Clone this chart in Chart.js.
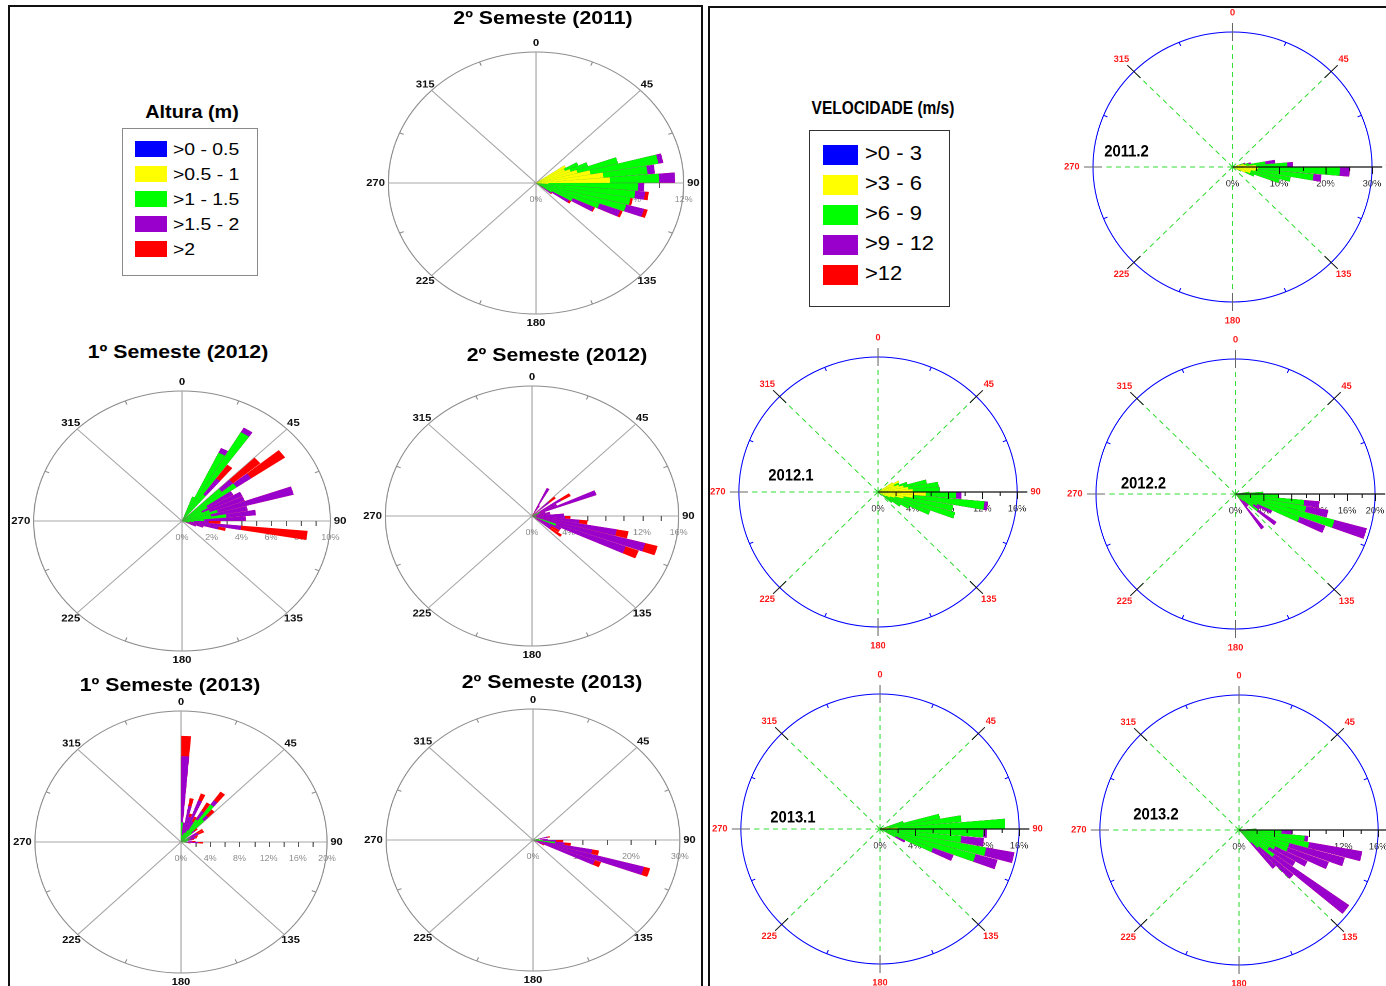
<!DOCTYPE html>
<html lang="pt">
<head>
<meta charset="utf-8">
<title>Rosas de altura de onda e velocidade do vento</title>
<script src="https://cdn.jsdelivr.net/npm/chart.js@4.4.1/dist/chart.umd.min.js"></script>
<style>
html,body{margin:0;padding:0;background:#fff;}
body{position:relative;width:1386px;height:986px;overflow:hidden;font-family:"Liberation Sans",Arial,Helvetica,sans-serif;color:#000;}
.rule{position:absolute;background:#111;}
.title{position:absolute;font-weight:bold;font-size:19px;white-space:nowrap;transform:translate(-50%,-50%) scaleX(1.12);}
canvas{position:absolute;}
.box{position:absolute;background:#fff;}
.sw{position:absolute;}
.key{position:absolute;white-space:nowrap;transform-origin:left center;}
.ltitle{position:absolute;font-weight:bold;white-space:nowrap;}
</style>
</head>
<body>
<div class="rule" style="left:8px;top:5px;width:695px;height:2px"></div>
<div class="rule" style="left:8px;top:5px;width:2px;height:981px"></div>
<div class="rule" style="left:701px;top:5px;width:2px;height:981px"></div>
<div class="rule" style="left:708px;top:6px;width:678px;height:2px"></div>
<div class="rule" style="left:708px;top:6px;width:2px;height:980px"></div>
<div id="legends"></div>
<div id="roses"></div>
<script>
// ---- class definitions -------------------------------------------------
const heightClasses = ['>0 - 0.5', '>0.5 - 1', '>1 - 1.5', '>1.5 - 2', '>2'];
const speedClasses = ['>0 - 3', '>3 - 6', '>6 - 9', '>9 - 12', '>12'];
const classColors = ['#0000ff', '#ffff00', '#00ff00', '#9900cc', '#ff0000'];
const compassLabels = ['0', '45', '90', '135', '180', '225', '270', '315'];

// ---- wave height roses: % of records per 5° sector (sector centre, degrees)
const alt2011s2Dirs   = [57.5, 62.5, 67.5, 72.5, 77.5, 82.5, 87.5, 92.5, 97.5, 102.5, 107.5, 112.5, 117.5, 122.5, 127.5];
const alt2011s2Blue   = [0,   0,   0,   0,   0,   0,   0,   0,   0,   0,   0,   0,   0,   0,   0];
const alt2011s2Yellow = [2.8, 2.6, 3.0, 3.5, 4.5, 5.5, 6.0, 1.0, 0,   0,   0,   0,   0,   0,   0];
const alt2011s2Green  = [0,   1.2, 1.5, 3.4, 5.6, 3.6, 4.0, 7.3, 8.1, 7.8, 7.6, 5.5, 3.3, 1.5, 0.5];
const alt2011s2Purple = [0,   0,   0,   0,   0.4, 0.6, 1.3, 0.5, 0.8, 0,   1.5, 1.8, 1.9, 1.6, 1.0];
const alt2011s2Red    = [0,   0,   0,   0,   0,   0,   0,   0,   0.3, 0.2, 0.3, 0.2, 0.1, 0.2, 0.1];

const alt2012s1Dirs   = [22.5, 27.5, 32.5, 37.5, 47.5, 52.5, 57.5, 62.5, 67.5, 72.5, 77.5, 82.5, 87.5, 92.5, 97.5, 102.5, 107.5, 112.5];
const alt2012s1Blue   = [0,   0,   0,   0,   0,   0,   0,   0,   0,   0,   0,   0,   0,   0,   0,   0,   0,   0];
const alt2012s1Yellow = [0,   0,   0,   0,   0,   0,   0,   0,   0,   0,   0,   0,   0,   0,   0,   0,   0,   0];
const alt2012s1Green  = [2.0, 5.8, 7.9, 2.5, 3.5, 4.5, 2.0, 1.5, 2.0, 2.5, 2.0, 3.0, 1.5, 0.8, 0.5, 0.5, 0.3, 0.2];
const alt2012s1Purple = [0,   0.4, 0.4, 1.5, 1.0, 1.2, 2.0, 3.0, 2.5, 5.3, 2.5, 2.0, 2.8, 1.0, 3.5, 2.0, 1.2, 0.8];
const alt2012s1Red    = [0,   0,   0,   1.3, 2.4, 2.8, 0,   0,   0,   0,   0,   0,   0,   0.8, 4.5, 0.5, 0,   0];

const alt2012s2Dirs   = [27.5, 32.5, 47.5, 57.5, 62.5, 67.5, 72.5, 77.5, 82.5, 87.5, 92.5, 97.5, 102.5, 107.5, 112.5, 117.5, 122.5, 127.5];
const alt2012s2Blue   = [0,   0,   0,   0,   0,   0,   0,   0,   0,   0,   0,   0,   0,   0,   0,   0,   0,   0];
const alt2012s2Yellow = [0,   0,   0,   0,   0,   0,   0,   0,   0,   0,   0,   0,   0,   0,   0,   0,   0,   0];
const alt2012s2Green  = [0.3, 0,   0,   0.5, 1.0, 0.8, 0,   0,   0.5, 0,   0,   0,   0,   0.5, 2.8, 0.5, 0.5, 0];
const alt2012s2Purple = [3.5, 1.5, 2.5, 3.2, 2.0, 6.7, 1.5, 2.0, 1.5, 3.5, 3.6, 5.2, 9.4, 12.3, 8.1, 3.0, 2.0, 2.5];
const alt2012s2Red    = [0,   0,   0.9, 1.2, 0,   0,   0,   0,   0,   0,   0.6, 0.9, 1.3, 1.4, 1.5, 0,   1.0, 1.5];

const alt2013s1Dirs   = [2.5, 7.5, 12.5, 17.5, 22.5, 27.5, 32.5, 37.5, 42.5, 47.5, 57.5, 62.5, 67.5, 72.5, 77.5, 87.5, 92.5, 97.5];
const alt2013s1Blue   = [0,   0,   0,   0,   0,   0,   0,   0,   0,   0,   0,   0,   0,   0,   0,   0,   0,   0];
const alt2013s1Yellow = [0,   0,   0,   0,   0,   0,   0,   0,   0,   0,   0,   0,   0,   0,   0,   0,   0,   0];
const alt2013s1Green  = [3.0, 1.0, 1.0, 1.5, 1.5, 2.0, 4.0, 7.0, 4.5, 2.0, 1.0, 1.5, 1.0, 1.2, 1.0, 0.8, 1.0, 0.5];
const alt2013s1Purple = [10.1, 2.0, 4.6, 2.5, 5.3, 1.5, 1.5, 0.8, 0.8, 0.5, 1.5, 1.2, 1.0, 0.8, 0.5, 0.7, 1.3, 0.5];
const alt2013s1Red    = [3.1, 0,   1.2, 0.5, 1.1, 0.8, 1.5, 1.6, 1.2, 0.5, 1.0, 0.8, 0.5, 0.3, 0.3, 0.5, 0.7, 0.3];

const alt2013s2Dirs   = [77.5, 82.5, 87.5, 92.5, 97.5, 102.5, 107.5, 112.5, 117.5];
const alt2013s2Blue   = [0,   0,   0,   0,   0,   0,    0,    0,    0];
const alt2013s2Yellow = [0,   0,   0,   0,   0,   0,    0,    0,    0];
const alt2013s2Green  = [1.0, 1.2, 1.5, 2.0, 4.5, 1.0,  0.5,  0.5,  0];
const alt2013s2Purple = [2.0, 0,   1.5, 2.7, 2.0, 11.3, 23.0, 13.0, 2.0];
const alt2013s2Red    = [0.5, 0,   0,   1.5, 1.3, 1.4,  1.3,  1.3,  0.5];

// ---- wind speed roses: % of records per 5° sector -------------------------
const vel2011s2Dirs   = [72.5, 77.5, 82.5, 87.5, 92.5, 97.5, 102.5, 107.5, 112.5, 117.5];
const vel2011s2Blue   = [0,   0,   0,   0,   0,    0,    0,   0,   0,   0];
const vel2011s2Yellow = [1.5, 2.5, 3.0, 5.0, 5.5,  5.0,  4.0, 4.0, 3.0, 1.5];
const vel2011s2Green  = [1.0, 1.0, 4.1, 6.8, 17.6, 12.5, 8.7, 6.5, 2.0, 0.5];
const vel2011s2Purple = [0.3, 0.5, 2.1, 1.2, 2.1,  1.7,  0,   0,   0,   0];
const vel2011s2Red    = [0,   0,   0,   0,   0,    0,    0,   0,   0,   0];

const vel2012s1Dirs   = [57.5, 62.5, 67.5, 72.5, 77.5, 82.5, 87.5, 92.5, 97.5, 102.5, 107.5, 112.5, 117.5, 122.5, 127.5];
const vel2012s1Blue   = [0,   0,   0,   0,   0,   0,   0,   0,   0,   0,   0,   0,   0,   0,   0];
const vel2012s1Yellow = [2.0, 2.7, 2.0, 2.5, 3.0, 3.5, 4.0, 5.5, 4.0, 3.0, 2.0, 1.5, 1.0, 0.5, 0];
const vel2012s1Green  = [0,   0,   0.6, 1.0, 2.7, 3.5, 3.1, 3.5, 8.3, 5.8, 7.2, 4.9, 3.0, 2.5, 2.0];
const vel2012s1Purple = [0,   0,   0,   0,   0,   0,   0,   0.6, 0.4, 0,   0,   0,   0,   0,   0];
const vel2012s1Red    = [0,   0,   0,   0,   0,   0,   0,   0,   0,   0,   0,   0,   0,   0,   0];

const vel2012s2Dirs   = [82.5, 87.5, 92.5, 97.5, 102.5, 107.5, 112.5, 117.5, 122.5, 127.5, 132.5, 137.5, 142.5];
const vel2012s2Blue   = [0,   0,   0,   0,   0,    0,    0,   0,   0,   0,   0,   0,   0];
const vel2012s2Yellow = [0,   0,   0,   0,   0,    0,    0,   0,   0,   0,   0,   0,   0];
const vel2012s2Green  = [2.0, 4.0, 6.2, 9.9, 10.3, 14.7, 9.8, 3.5, 3.0, 4.0, 1.5, 1.0, 1.0];
const vel2012s2Purple = [0,   0,   0,   2.2, 3.2,  4.8,  3.9, 2.3, 1.0, 3.2, 1.0, 1.5, 5.4];
const vel2012s2Red    = [0,   0,   0,   0,   0,    0,    0,   0,   0,   0,   0,   0,   0];

const vel2013s1Dirs   = [72.5, 77.5, 82.5, 87.5, 92.5, 97.5, 102.5, 107.5, 112.5, 117.5];
const vel2013s1Blue   = [0,   0,   0,   0,    0,    0,   0,    0,    0,   0];
const vel2013s1Yellow = [0.3, 0.5, 1.0, 2.0,  0.5,  0,   0,    0,    0,   0];
const vel2013s1Green  = [2.5, 6.5, 8.4, 12.4, 11.4, 9.4, 12.4, 11.4, 6.5, 2.0];
const vel2013s1Purple = [0,   0,   0,   0,    0.4,  2.6, 3.3,  2.6,  2.5, 1.2];
const vel2013s1Red    = [0,   0,   0,   0,    0,    0,   0,    0,    0,   0];

const vel2013s2Dirs   = [87.5, 92.5, 97.5, 102.5, 107.5, 112.5, 117.5, 122.5, 127.5, 132.5, 137.5];
const vel2013s2Blue   = [0,   0,   0,   0,   0,   0,   0,   0,   0,    0,   0];
const vel2013s2Yellow = [0,   0,   0,   0,   0,   0,   0,   0,   0,    0,   0];
const vel2013s2Green  = [2.0, 4.9, 7.6, 8.2, 6.0, 6.0, 4.6, 4.0, 5.0,  3.0, 2.0];
const vel2013s2Purple = [0,   1.2, 0.4, 6.2, 6.6, 5.0, 4.1, 3.5, 10.5, 5.2, 4.0];
const vel2013s2Red    = [0,   0,   0,   0,   0,   0,   0,   0,   0,    0,   0];

// ---- layout of each rose on the page ----------------------------------------
const roses = [
  { kind: 'h', name: '2º Semeste (2011)', dirs: alt2011s2Dirs,
    series: [alt2011s2Blue, alt2011s2Yellow, alt2011s2Green, alt2011s2Purple, alt2011s2Red],
    max: 12, labelStep: 4, tickStep: 2, cx: 536, cy: 183, rx: 148, ry: 131, tx: 543, ty: 18 },
  { kind: 'h', name: '1º Semeste (2012)', dirs: alt2012s1Dirs,
    series: [alt2012s1Blue, alt2012s1Yellow, alt2012s1Green, alt2012s1Purple, alt2012s1Red],
    max: 10, labelStep: 2, tickStep: 1, cx: 182, cy: 521, rx: 148, ry: 130, tx: 178, ty: 352 },
  { kind: 'h', name: '2º Semeste (2012)', dirs: alt2012s2Dirs,
    series: [alt2012s2Blue, alt2012s2Yellow, alt2012s2Green, alt2012s2Purple, alt2012s2Red],
    max: 16, labelStep: 4, tickStep: 2, cx: 532, cy: 516, rx: 147, ry: 130, tx: 557, ty: 355 },
  { kind: 'h', name: '1º Semeste (2013)', dirs: alt2013s1Dirs,
    series: [alt2013s1Blue, alt2013s1Yellow, alt2013s1Green, alt2013s1Purple, alt2013s1Red],
    max: 20, labelStep: 4, tickStep: 2, cx: 181, cy: 842, rx: 146, ry: 131, tx: 170, ty: 685 },
  { kind: 'h', name: '2º Semeste (2013)', dirs: alt2013s2Dirs,
    series: [alt2013s2Blue, alt2013s2Yellow, alt2013s2Green, alt2013s2Purple, alt2013s2Red],
    max: 30, labelStep: 10, tickStep: 5, cx: 533, cy: 840, rx: 147, ry: 131, tx: 552, ty: 682 },
  { kind: 'v', name: '2011.2', dirs: vel2011s2Dirs,
    series: [vel2011s2Blue, vel2011s2Yellow, vel2011s2Green, vel2011s2Purple, vel2011s2Red],
    max: 30, labelStep: 10, tickStep: 5, cx: 1232, cy: 167, rx: 139.5, ry: 135, tx: -106, ty: -15 },
  { kind: 'v', name: '2012.1', dirs: vel2012s1Dirs,
    series: [vel2012s1Blue, vel2012s1Yellow, vel2012s1Green, vel2012s1Purple, vel2012s1Red],
    max: 16, labelStep: 4, tickStep: 2, cx: 878, cy: 492, rx: 139, ry: 135, tx: -87, ty: -16 },
  { kind: 'v', name: '2012.2', dirs: vel2012s2Dirs,
    series: [vel2012s2Blue, vel2012s2Yellow, vel2012s2Green, vel2012s2Purple, vel2012s2Red],
    max: 20, labelStep: 4, tickStep: 2, cx: 1235, cy: 494, rx: 139.5, ry: 135, tx: -92, ty: -10 },
  { kind: 'v', name: '2013.1', dirs: vel2013s1Dirs,
    series: [vel2013s1Blue, vel2013s1Yellow, vel2013s1Green, vel2013s1Purple, vel2013s1Red],
    max: 16, labelStep: 4, tickStep: 2, cx: 880, cy: 829, rx: 139, ry: 135, tx: -87, ty: -11 },
  { kind: 'v', name: '2013.2', dirs: vel2013s2Dirs,
    series: [vel2013s2Blue, vel2013s2Yellow, vel2013s2Green, vel2013s2Purple, vel2013s2Red],
    max: 16, labelStep: 4, tickStep: 2, cx: 1239, cy: 830, rx: 139, ry: 135, tx: -83, ty: -15 }
];

const SECTOR = 5;                 // sector width in degrees
const NSECT = 360 / SECTOR;
const FONT = '"Liberation Sans", Arial, Helvetica, sans-serif';

// stacked total up to class `upto` for every 5° sector (sector k spans k*5 .. k*5+5)
function cumulative(dirs, series, upto) {
  const out = new Array(NSECT).fill(0);
  dirs.forEach((d, i) => {
    let s = 0;
    for (let k = 0; k <= upto; k++) s += series[k][i];
    out[Math.floor(d / SECTOR)] = s;
  });
  return out;
}
// interleave empty gap arcs so adjacent sectors stay visually separated
function withGaps(values) {
  const data = [0];
  values.forEach(v => data.push(v, 0));
  return data;
}
function arcAngles(w, g) {
  const a = [g / 2];
  for (let i = 0; i < NSECT; i++) a.push(w, i === NSECT - 1 ? g / 2 : g);
  return a;
}

function frame(rose) {
  const right = rose.kind === 'v';
  const sx = rose.rx / rose.ry;
  function line(ctx, x1, y1, x2, y2) { ctx.beginPath(); ctx.moveTo(x1, y1); ctx.lineTo(x2, y2); ctx.stroke(); }
  return {
    id: 'roseFrame',
    beforeDatasetsDraw(chart) {
      const s = chart.scales.r, ctx = chart.ctx, R = s.drawingArea, cx = s.xCenter, cy = s.yCenter;
      ctx.save();
      // percentage labels under the east radius
      ctx.font = (right ? '9px ' : '8px ') + FONT;
      ctx.fillStyle = right ? '#333' : '#8c8c8c';
      ctx.textAlign = 'center';
      ctx.textBaseline = 'middle';
      for (let v = 0; v <= rose.max + 1e-6; v += rose.labelStep) {
        const p = s.getPointPosition(2, s.getDistanceFromCenterForValue(v));
        ctx.fillText(v + '%', p.x, cy + 17);
      }
      if (!right) {
        ctx.strokeStyle = '#555';
        ctx.lineWidth = 1;
        for (let v = rose.tickStep; v < rose.max - 1e-6; v += rose.tickStep) {
          const p = s.getPointPosition(2, s.getDistanceFromCenterForValue(v));
          line(ctx, Math.round(p.x) + 0.5, cy, Math.round(p.x) + 0.5, cy + 5);
        }
        ctx.strokeStyle = '#8c8c8c';
        for (let i = 0; i < 8; i++) {
          const a = s.getPointPosition(i + 0.5, R - 4), b = s.getPointPosition(i + 0.5, R);
          line(ctx, a.x, a.y, b.x, b.y);
        }
      }
      ctx.restore();
    },
    afterDatasetsDraw(chart) {
      const s = chart.scales.r, ctx = chart.ctx, R = s.drawingArea, cx = s.xCenter, cy = s.yCenter;
      ctx.save();
      if (right) {
        ctx.lineWidth = 1;
        // crossing marks at the eight compass points
        for (let i = 0; i < 8; i++) {
          const a = s.getPointPosition(i, R - 9), b = s.getPointPosition(i, R + 9);
          ctx.strokeStyle = i % 2 ? '#111' : '#666';
          line(ctx, a.x, a.y, b.x, b.y);
        }
        // small marks between them
        ctx.strokeStyle = '#0000ff';
        for (let i = 0; i < 8; i++) {
          const a = s.getPointPosition(i + 0.5, R - 4), b = s.getPointPosition(i + 0.5, R);
          line(ctx, a.x, a.y, b.x, b.y);
        }
        // east radius used as the percentage axis
        ctx.strokeStyle = '#111';
        ctx.lineWidth = 1.3;
        line(ctx, cx, cy, cx + R + 10, cy);
        ctx.lineWidth = 1;
        for (let v = rose.tickStep; v <= rose.max + 1e-6; v += rose.tickStep) {
          const x = Math.round(s.getPointPosition(2, s.getDistanceFromCenterForValue(v)).x) + 0.5;
          const major = Math.abs(v / rose.labelStep - Math.round(v / rose.labelStep)) < 1e-6;
          line(ctx, x, cy, x, cy + (major ? 7 : 4));
        }
      }
      // compass labels
      ctx.font = 'bold ' + (right ? '9px ' : '10px ') + FONT;
      ctx.fillStyle = right ? '#ff1a1a' : '#111';
      ctx.textBaseline = 'middle';
      const far = right ? 19 : 9, diag = right ? 17 : 8, side = right ? 13 : 3;
      compassLabels.forEach((txt, i) => {
        let p;
        if (i === 2) { p = s.getPointPosition(i, R + side); ctx.textAlign = 'left'; }
        else if (i === 6) { p = s.getPointPosition(i, R + side); ctx.textAlign = 'right'; }
        else if (i === 0 || i === 4) { p = s.getPointPosition(i, R + far); ctx.textAlign = 'center'; }
        else { p = s.getPointPosition(i, R + diag); ctx.textAlign = 'center'; }
        ctx.fillText(txt, p.x, p.y);
      });
      if (right) {
        ctx.save();
        ctx.translate(cx + rose.tx / sx, cy + rose.ty);
        ctx.scale(0.87 / sx, 1);
        ctx.font = 'bold 17px ' + FONT;
        ctx.fillStyle = '#000';
        ctx.textAlign = 'center';
        ctx.fillText(rose.name, 0, 0);
        ctx.restore();
      }
      ctx.restore();
    }
  };
}

const holder = document.getElementById('roses');
roses.forEach(rose => {
  const right = rose.kind === 'v';
  const P = right ? 30 : 26;
  const ry = Math.round(rose.ry);
  const sx = rose.rx / rose.ry;
  const S = 2 * ry + 2 * P;
  const cv = document.createElement('canvas');
  cv.width = S; cv.height = S;
  cv.style.left = (rose.cx - (ry + P) * sx) + 'px';
  cv.style.top = (rose.cy - ry - P) + 'px';
  cv.style.width = (S * sx) + 'px';
  cv.style.height = S + 'px';
  holder.appendChild(cv);

  const w = right ? 4.7 : 4.8, g = SECTOR - w;
  const angles = arcAngles(w, g);
  const datasets = classColors.map((c, k) => ({
    label: (right ? speedClasses : heightClasses)[k],
    data: withGaps(cumulative(rose.dirs, rose.series, k)),
    backgroundColor: c,
    borderWidth: 0,
    angle: ctx => angles[ctx.dataIndex]
  }));

  new Chart(cv, {
    type: 'polarArea',
    data: { labels: compassLabels, datasets },
    options: {
      responsive: false,
      animation: false,
      devicePixelRatio: 2,
      layout: { padding: P },
      plugins: { legend: { display: false }, tooltip: { enabled: false } },
      scales: {
        r: {
          min: 0, max: rose.max, startAngle: 0,
          ticks: { display: false, stepSize: rose.max },
          grid: { circular: true, color: right ? '#0000ff' : '#8c8c8c', lineWidth: 1 },
          angleLines: right
            ? { display: true, color: '#33dd33', lineWidth: 1, borderDash: [5, 4] }
            : { display: true, color: '#a6a6a6', lineWidth: 1 },
          pointLabels: { display: false }
        }
      }
    },
    plugins: [frame(rose)]
  });

  if (!right) {
    const t = document.createElement('div');
    t.className = 'title';
    t.textContent = rose.name;
    t.style.left = rose.tx + 'px';
    t.style.top = rose.ty + 'px';
    document.body.appendChild(t);
  }
});

// ---- legends -----------------------------------------------------------------
function legend(title, classes, o) {
  const lg = document.getElementById('legends');
  const t = document.createElement('div');
  t.className = 'ltitle';
  t.textContent = title;
  t.style.cssText += `left:${o.titleX}px;top:${o.titleY}px;font-size:${o.titleSize}px;transform:translate(-50%,-50%) scaleX(${o.titleScale});`;
  lg.appendChild(t);
  const b = document.createElement('div');
  b.className = 'box';
  b.style.cssText += `left:${o.x}px;top:${o.y}px;width:${o.w}px;height:${o.h}px;border:1px solid ${o.border};`;
  lg.appendChild(b);
  classes.forEach((c, k) => {
    const s = document.createElement('div');
    s.className = 'sw';
    s.style.cssText += `left:${o.swX}px;top:${o.swY + k * o.pitch}px;width:${o.swW}px;height:${o.swH}px;background:${classColors[k]};`;
    lg.appendChild(s);
    const k2 = document.createElement('div');
    k2.className = 'key';
    k2.textContent = c;
    k2.style.cssText += `left:${o.txtX}px;top:${o.swY + k * o.pitch + o.swH / 2 + o.txtShift}px;font-size:${o.txtSize}px;line-height:1;transform:translateY(-50%) scaleX(${o.txtScale});`;
    lg.appendChild(k2);
  });
}
legend('Altura (m)', heightClasses, {
  titleX: 192, titleY: 112, titleSize: 18, titleScale: 1.1,
  x: 122, y: 128, w: 134, h: 146, border: '#8a8a8a',
  swX: 135, swY: 141, swW: 32, swH: 16, pitch: 25,
  txtX: 173, txtSize: 17, txtScale: 1.14, txtShift: 0
});
legend('VELOCIDADE (m/s)', speedClasses, {
  titleX: 883, titleY: 108, titleSize: 18, titleScale: 0.86,
  x: 809, y: 130, w: 139, h: 175, border: '#333',
  swX: 823, swY: 145, swW: 35, swH: 20, pitch: 30,
  txtX: 865, txtSize: 20, txtScale: 1.1, txtShift: -2
});
</script>
</body>
</html>
